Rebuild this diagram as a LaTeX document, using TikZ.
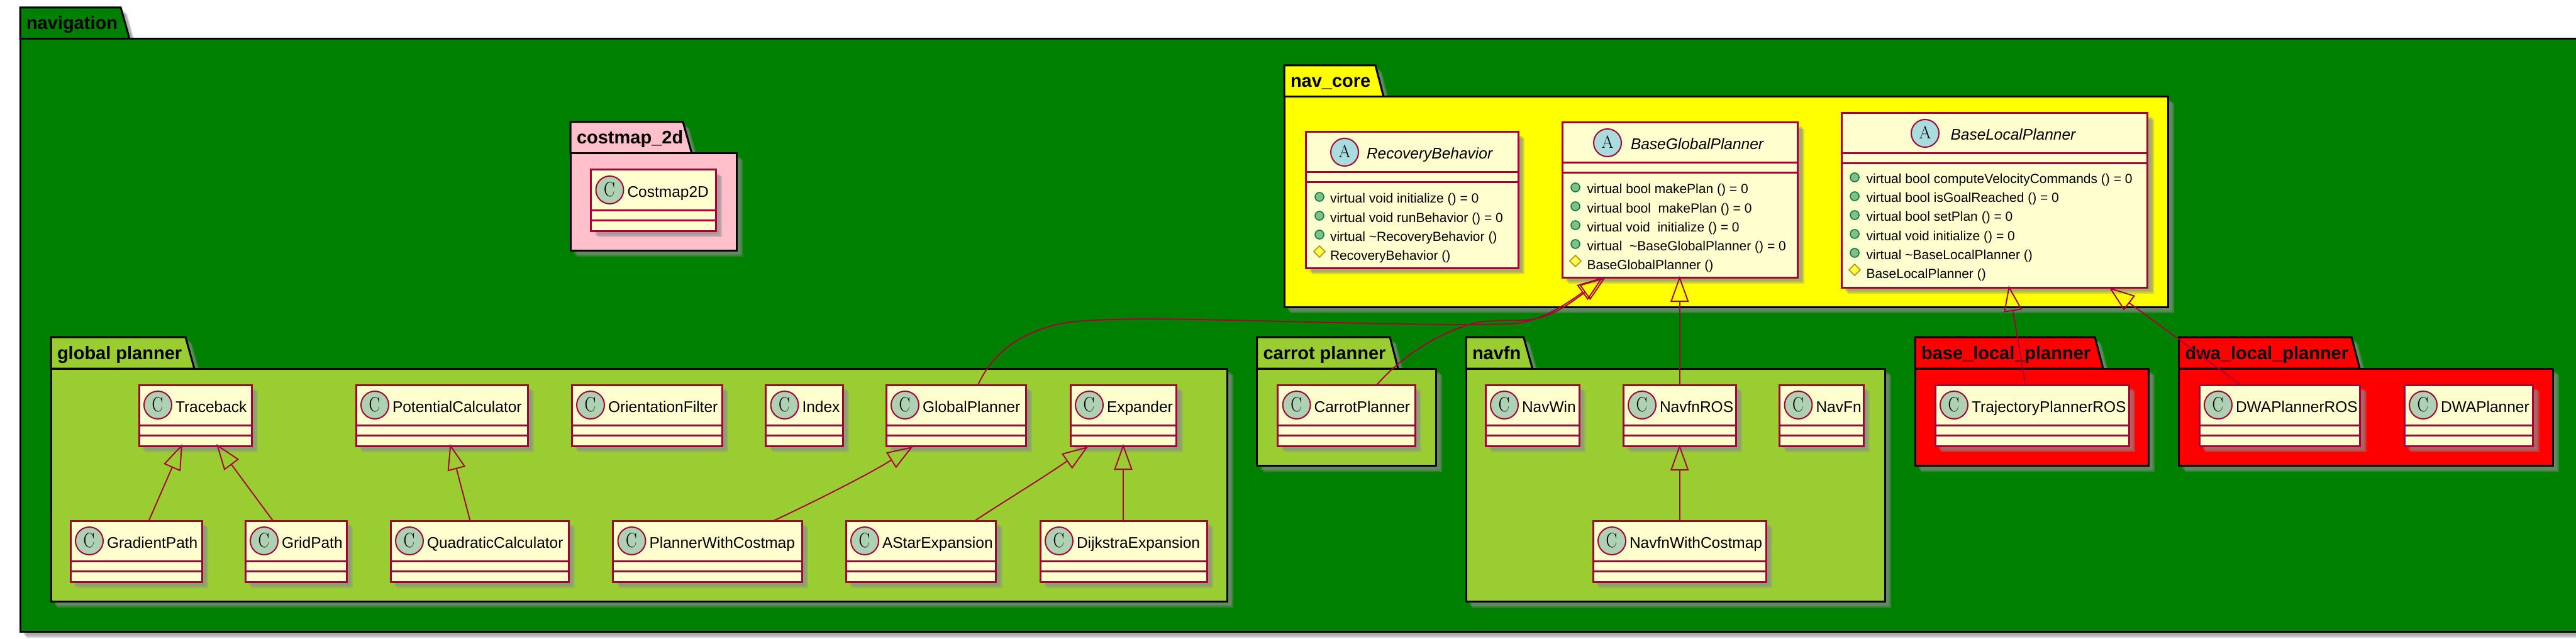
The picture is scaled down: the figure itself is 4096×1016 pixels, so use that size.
\documentclass[tikz,border=0pt]{standalone}
\usepackage{fontspec}
\usetikzlibrary{arrows.meta,calc,shapes.geometric}
\newfontfamily\uisans{Liberation Sans}
\definecolor{bordercol}{HTML}{A80036}
\definecolor{classbg}{HTML}{FEFECE}
\definecolor{circC}{HTML}{ADD1B2}
\definecolor{circA}{HTML}{A9DCDF}
\definecolor{pubfill}{HTML}{84BE84}
\definecolor{publine}{HTML}{038048}
\definecolor{protfill}{HTML}{FFFF44}
\definecolor{protline}{HTML}{B38D22}
\definecolor{navgreen}{HTML}{008000}
\definecolor{ygreen}{HTML}{9ACD32}
\definecolor{lpink}{HTML}{FFC0CB}
\definecolor{pureyellow}{HTML}{FFFF00}
\definecolor{purered}{HTML}{FF0000}
\definecolor{shadowgray}{HTML}{8C8C8C}
\newcommand\namefont{\uisans\fontsize{24.5}{28}\selectfont}
\newcommand\namefontit{\uisans\itshape\fontsize{24.5}{28}\selectfont}
\newcommand\memfont{\uisans\fontsize{21}{24}\selectfont}
\newcommand\pkgfont{\uisans\bfseries\fontsize{29}{32}\selectfont}
\tikzset{
  shadowlayer/.style={fill=shadowgray,opacity=.35,draw=none},
  pkgbody/.style={rectangle,draw=black,line width=3pt,inner sep=0pt,outer sep=0pt},
  pkgtab/.style={draw=black,line width=3pt,line join=miter},
  classbox/.style={rectangle,draw=bordercol,fill=classbg,line width=3pt,inner sep=0pt,outer sep=0pt},
  classrule/.style={draw=bordercol,line width=3pt},
  plainlabel/.style={anchor=base west,inner sep=0pt,outer sep=0pt,text=black},
  spotC/.style={circle,draw=bordercol,fill=circC,line width=2pt,minimum size=44pt,inner sep=0pt},
  spotA/.style={ellipse,draw=bordercol,fill=circA,line width=2pt,minimum size=44pt,inner sep=0pt},
  spotglyph/.style={inner sep=0pt,outer sep=0pt,text=black},
  pubdot/.style={circle,draw=publine,fill=pubfill,line width=1.6pt,minimum size=14pt,inner sep=0pt},
  inh/.style={draw=bordercol,line width=1.9pt,-{Triangle[open,length=41pt,width=29pt,line width=1.9pt]}},
}
\newcounter{mem}
\newcommand\shadowrect[4]{%
  \foreach \d in {6,8,10}{\fill[shadowlayer] ({#1+\d},{#2+\d}) rectangle ({#3+\d},{#4+\d});}}
% name, label, left, right, body top, bottom, tab top right, tab bottom right, colour
\newcommand\umlpackage[9]{%
  \foreach \d in {6,8,10}{\fill[shadowlayer] ({#3+\d},{#5-50+\d}) -- ({#7+\d},{#5-50+\d}) -- ({#8+\d},{#5+\d}) -- ({#4+\d},{#5+\d}) -- ({#4+\d},{#6+\d}) -- ({#3+\d},{#6+\d}) -- cycle;}
  \path[pkgtab,fill=#9] (#3,#5) -- (#3,{#5-50}) -- (#7,{#5-50}) -- (#8,#5) -- cycle;
  \node[pkgbody,fill=#9,minimum width={(#4-#3)*1pt},minimum height={(#6-#5)*1pt}] (#1) at ({(#3+#4)/2},{(#5+#6)/2}) {};
  \node[plainlabel,font=\pkgfont] (#1-title) at ({#3+10},{#5-15}) {#2};
}
% name, label, left, right, top
\newcommand\umlclass[5]{%
  \shadowrect{#3}{#5}{#4}{#5+97}
  \node[classbox,minimum width={(#4-#3)*1pt},minimum height=97pt] (#1) at ({(#3+#4)/2},{#5+48.5}) {};
  \draw[classrule] (#3,{#5+64}) -- (#4,{#5+64});
  \draw[classrule] (#3,{#5+80}) -- (#4,{#5+80});
  \node[spotC] (#1-spot) at ({#3+30},{#5+32}) {};
  \node[spotglyph] (#1-glyph) at ({#3+29.5},{#5+31}) {\fontsize{33}{33}\selectfont\scalebox{.8}[1]{C}};
  \node[plainlabel,font=\namefont] (#1-label) at ({#3+58},{#5+43}) {#2};
}
% name, label, left, right, top, bottom, spot x, label x
\newcommand\umlabstract[8]{%
  \shadowrect{#3}{#5}{#4}{#6}
  \node[classbox,minimum width={(#4-#3)*1pt},minimum height={(#6-#5)*1pt}] (#1) at ({(#3+#4)/2},{(#5+#6)/2}) {};
  \draw[classrule] (#3,{#5+64}) -- (#4,{#5+64});
  \draw[classrule] (#3,{#5+80}) -- (#4,{#5+80});
  \node[spotA] (#1-spot) at (#7,{#5+32}) {};
  \node[spotglyph] (#1-glyph) at (#7,{#5+31}) {\fontsize{28}{28}\selectfont A};
  \node[plainlabel,font=\namefontit] (#1-label) at (#8,{#5+43}) {#2};
}
% spot x, text x, baseline, text
\newcommand\pubmember[4]{%
  \stepcounter{mem}
  \node[pubdot] (mdot\arabic{mem}) at (#1,{#3-10}) {};
  \node[plainlabel,font=\memfont] (mtext\arabic{mem}) at (#2,#3) {#4};
}
\newcommand\protmember[4]{%
  \stepcounter{mem}
  \fill[protfill,draw=protline,line width=1.6pt] ({#1-9},{#3-13}) -- (#1,{#3-22}) -- ({#1+9},{#3-13}) -- (#1,{#3-4}) -- cycle;
  \node[plainlabel,font=\memfont] (mtext\arabic{mem}) at (#2,#3) {#4};
}
\begin{document}
\begin{tikzpicture}[x=1pt,y=-1pt]
\useasboundingbox (0,0) rectangle (4096,1016);
\fill[white] (0,0) rectangle (4096,1016);
\clip (0,0) rectangle (4096,1016);

\umlpackage{navigation}{navigation}{32}{4130}{62}{1004}{192}{206}{navgreen}

\umlpackage{costmap}{costmap\_2d}{907}{1171}{244}{398}{1086}{1100}{lpink}
\umlclass{Costmap2D}{Costmap2D}{939.5}{1138}{270}

\umlpackage{navcore}{nav\_core}{2042}{3447}{154}{488}{2187}{2200}{pureyellow}
\umlabstract{RecoveryBehavior}{RecoveryBehavior}{2076}{2414}{210}{426}{2138}{2173}
\pubmember{2098}{2115}{323}{virtual void initialize () = 0}
\pubmember{2098}{2115}{353}{virtual void runBehavior () = 0}
\pubmember{2098}{2115}{383}{virtual \textasciitilde RecoveryBehavior ()}
\protmember{2098}{2115}{413}{RecoveryBehavior ()}
\umlabstract{BaseGlobalPlanner}{BaseGlobalPlanner}{2484}{2858.5}{195}{441}{2556}{2593}
\pubmember{2505}{2523.5}{308}{virtual bool makePlan () = 0}
\pubmember{2505}{2523.5}{338}{virtual bool\ \ makePlan () = 0}
\pubmember{2505}{2523.5}{368}{virtual void\ \ initialize () = 0}
\pubmember{2505}{2523.5}{398}{virtual\ \ \textasciitilde BaseGlobalPlanner () = 0}
\protmember{2505}{2523.5}{428}{BaseGlobalPlanner ()}
\umlabstract{BaseLocalPlanner}{BaseLocalPlanner}{2928}{3414.5}{180}{457}{3061}{3101.5}
\pubmember{2949}{2967.5}{292}{virtual bool computeVelocityCommands () = 0}
\pubmember{2949}{2967.5}{322}{virtual bool isGoalReached () = 0}
\pubmember{2949}{2967.5}{352}{virtual bool setPlan () = 0}
\pubmember{2949}{2967.5}{382}{virtual void initialize () = 0}
\pubmember{2949}{2967.5}{412}{virtual \textasciitilde BaseLocalPlanner ()}
\protmember{2949}{2967.5}{442}{BaseLocalPlanner ()}

\umlpackage{globalplanner}{global planner}{81}{1951}{586}{956}{295}{309}{ygreen}
\umlclass{Traceback}{Traceback}{221}{400}{612}
\umlclass{PotentialCalculator}{PotentialCalculator}{566}{839}{612}
\umlclass{OrientationFilter}{OrientationFilter}{909}{1148}{612}
\umlclass{Index}{Index}{1217.5}{1340}{612}
\umlclass{GlobalPlanner}{GlobalPlanner}{1409}{1631}{612}
\umlclass{Expander}{Expander}{1702}{1870.5}{612}
\umlclass{GradientPath}{GradientPath}{112}{321}{828}
\umlclass{GridPath}{GridPath}{390}{551}{828}
\umlclass{QuadraticCalculator}{QuadraticCalculator}{621}{904}{828}
\umlclass{PlannerWithCostmap}{PlannerWithCostmap}{974.5}{1275}{828}
\umlclass{AStarExpansion}{AStarExpansion}{1345}{1583.5}{828}
\umlclass{DijkstraExpansion}{DijkstraExpansion}{1654}{1919}{828}

\umlpackage{carrotplanner}{carrot planner}{1998.5}{2283}{586}{740.5}{2210}{2223}{ygreen}
\umlclass{CarrotPlanner}{CarrotPlanner}{2031.6}{2250}{612}

\umlpackage{navfn}{navfn}{2331}{2997}{586}{956.5}{2422.6}{2436.6}{ygreen}
\umlclass{NavWin}{NavWin}{2362}{2511}{612}
\umlclass{NavfnROS}{NavfnROS}{2581}{2760}{612}
\umlclass{NavFn}{NavFn}{2829.5}{2963}{612}
\umlclass{NavfnWithCostmap}{NavfnWithCostmap}{2533}{2808}{828}

\umlpackage{baselocal}{base\_local\_planner}{3045}{3416}{586}{740.5}{3331}{3344}{purered}
\umlclass{TrajectoryPlannerROS}{TrajectoryPlannerROS}{3077}{3385}{612}

\umlpackage{dwalocal}{dwa\_local\_planner}{3464.6}{4059}{586}{740.5}{3739}{3752}{purered}
\umlclass{DWAPlannerROS}{DWAPlannerROS}{3497}{3752.6}{612}
\umlclass{DWAPlanner}{DWAPlanner}{3823}{4027.5}{612}

% inheritance connectors
\draw[inh] ([xshift=124.6pt]GradientPath.north west) -- ([xshift=69pt,yshift=3pt]Traceback.south west);
\draw[inh] ([xshift=44pt]GridPath.north west) -- ([xshift=123pt,yshift=3pt]Traceback.south west);
\draw[inh] ([xshift=126.5pt]QuadraticCalculator.north west) -- ([xshift=149.5pt,yshift=3pt]PotentialCalculator.south west);
\draw[inh] ([xshift=255.5pt]PlannerWithCostmap.north west) .. controls (1290,800) and (1380,755) .. ([xshift=42.5pt,yshift=-1pt]GlobalPlanner.south west);
\draw[inh] ([xshift=205pt]AStarExpansion.north west) .. controls (1600,795) and (1655,762) .. ([xshift=28pt,yshift=-1pt]Expander.south west);
\draw[inh] ([xshift=132pt]DijkstraExpansion.north west) -- ([xshift=84pt,yshift=3pt]Expander.south west);
\draw[inh] ([xshift=137.7pt]NavfnWithCostmap.north west) -- ([xshift=89.7pt,yshift=2pt]NavfnROS.south west);
\draw[inh] ([xshift=89.7pt]NavfnROS.north west) -- ([xshift=186.7pt,yshift=2pt]BaseGlobalPlanner.south west);
\draw[inh] ([xshift=146pt]GlobalPlanner.north west) .. controls (1583,552) and (1630,530) .. (1676,517) .. controls (1720,505) and (1830,506) .. (2000,510) .. controls (2200,515) and (2340,518) .. (2400,515) .. controls (2445,514) and (2490,484) .. ([xshift=65pt]BaseGlobalPlanner.south west);
\draw[inh] ([xshift=157.4pt]CarrotPlanner.north west) .. controls (2235,560) and (2290,530) .. (2339,515) .. controls (2365,508) and (2400,510) .. (2425,509) .. controls (2465,507) and (2495,483) .. ([xshift=69pt]BaseGlobalPlanner.south west);
\draw[inh] ([xshift=143.5pt]TrajectoryPlannerROS.north west) .. controls (3213,565) and (3204,514) .. ([xshift=266pt,yshift=3pt]BaseLocalPlanner.south west);
\draw[inh] ([xshift=65.6pt]DWAPlannerROS.north west) .. controls (3500,565) and (3410,500) .. ([xshift=425.5pt]BaseLocalPlanner.south west);
\end{tikzpicture}
\end{document}
